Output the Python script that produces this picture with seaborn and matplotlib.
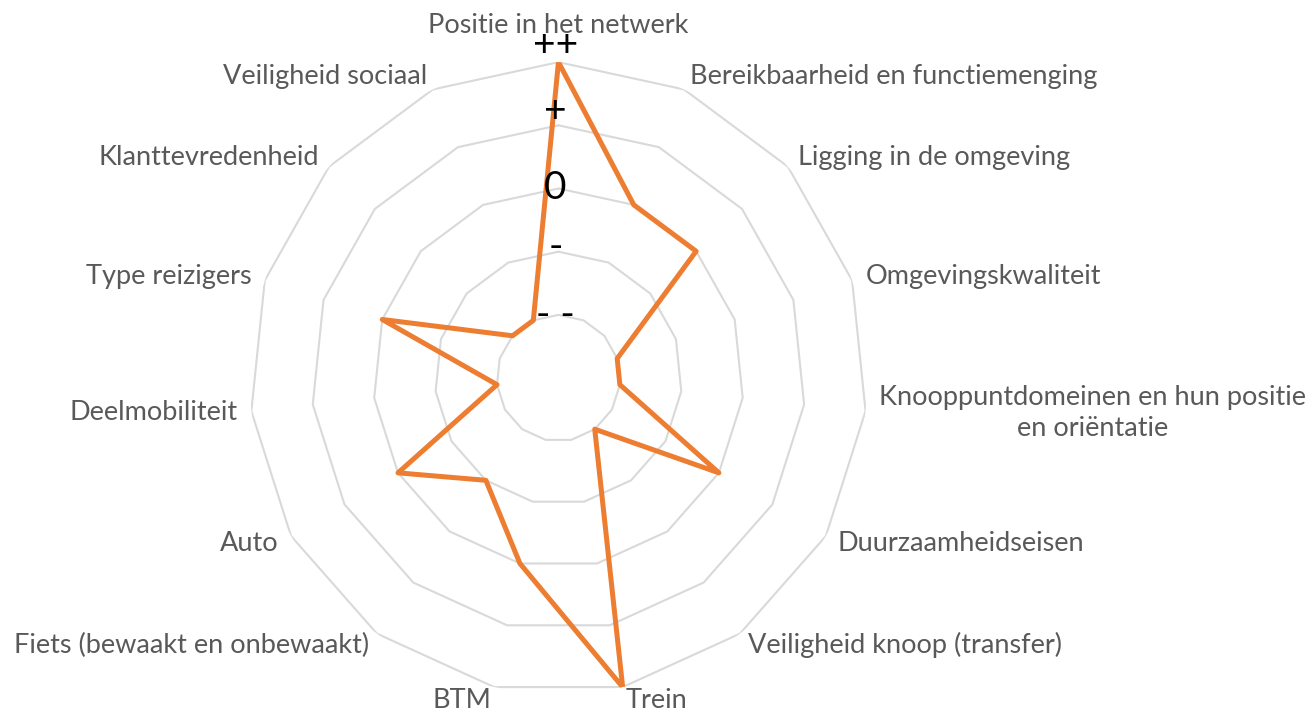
import numpy as np
import pandas as pd
import matplotlib.pyplot as plt
import seaborn as sns

categories = [
    "Positie in het netwerk",
    "Bereikbaarheid en functiemenging",
    "Ligging in de omgeving",
    "Omgevingskwaliteit",
    "Knooppuntdomeinen en hun positie\nen oriëntatie",
    "Duurzaamheidseisen",
    "Veiligheid knoop (transfer)",
    "Trein",
    "BTM",
    "Fiets (bewaakt en onbewaakt)",
    "Auto",
    "Deelmobiliteit",
    "Type reizigers",
    "Klanttevredenheid",
    "Veiligheid sociaal",
]
scores = [5, 3, 3, 1, 1, 3, 1, 5, 3, 2, 3, 1, 3, 1, 1]
ring_values = [1, 2, 3, 4, 5]
ring_labels = ["- -", "-", "0", "+", "++"]

sns.set_theme(style="white")
plt.rcParams['font.family'] = ['Lato', 'DejaVu Sans']

n = len(categories)
angles = np.linspace(0, 2 * np.pi, n, endpoint=False)
closed_angles = np.append(angles, angles[0])

fig = plt.figure(figsize=(13.14, 7.14), dpi=100)
ax = fig.add_axes([0.190, 0.028, 0.470, 0.885], projection='polar')
ax.set_theta_zero_location('N')
ax.set_theta_direction(-1)
ax.set_aspect('auto')

# polygon rings instead of the circular grid
for v in ring_values:
    ax.plot(closed_angles, [v] * (n + 1), color='#d9d9d9', lw=1.5, zorder=1)

df = pd.DataFrame({'angle': closed_angles, 'score': scores + scores[:1]})
sns.lineplot(data=df, x='angle', y='score', sort=False, estimator=None,
             color='#ED7D31', lw=3.6, ax=ax, zorder=3)

ax.set_ylim(0, 5)
ax.grid(False)
ax.set_xticks([])
ax.set_yticks([])
ax.set_xlabel('')
ax.set_ylabel('')
ax.spines['polar'].set_visible(False)
ax.patch.set_alpha(0)

# category labels just outside the outer ring
for a, lab in zip(angles, categories):
    s, c = np.sin(a), np.cos(a)
    if abs(s) < 0.05 and c > 0:
        ha, va, off = 'center', 'bottom', (0, 24)
    else:
        ha = 'left' if s > 0 else 'right'
        va, off = 'center', (14 * s, 14 * c)
    ax.annotate(lab, xy=(a, 5), xytext=off, textcoords='offset pixels',
                ha=ha, va=va, multialignment='center', linespacing=1.3,
                fontsize=19.5, color='#595959', annotation_clip=False)

# axis value labels along the top spoke
ring_offsets = [0, 5, 0, 14, 17]
for v, lab, dy in zip(ring_values, ring_labels, ring_offsets):
    ax.annotate(lab, xy=(0, v), xytext=(-3, dy), textcoords='offset pixels',
                ha='center', va='center', fontsize=28, color='black',
                zorder=4, annotation_clip=False)

plt.savefig('out.png', dpi=100)
